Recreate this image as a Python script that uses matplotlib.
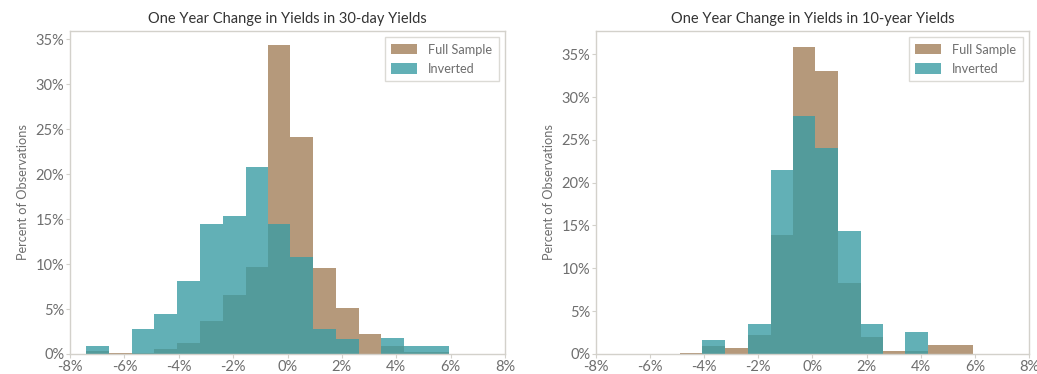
import numpy as np
import matplotlib
matplotlib.use("Agg")
import matplotlib.pyplot as plt
from matplotlib.ticker import FuncFormatter, MultipleLocator

plt.rcParams['font.family'] = ['Lato', 'DejaVu Sans']

# Shared histogram bin edges (one-year change, percentage points)
bin_edges = [-7.41, -6.57, -5.73, -4.90, -4.07, -3.22, -2.39, -1.54, -0.71,
             0.11, 0.95, 1.78, 2.62, 3.43, 4.27, 5.10, 5.93]

# 30-day yields: percent of observations per bin
short_full = [0.30, 0.11, 0.12, 0.59, 1.26, 3.70, 6.59, 9.70, 34.33,
              24.15, 9.52, 5.11, 2.19, 0.89, 0.26, 0.26]
short_inverted = [0.90, 0.0, 2.74, 4.48, 8.07, 14.40, 15.33, 20.74, 14.40,
                  10.81, 2.74, 1.70, 0.0, 1.74, 0.89, 0.89]

# 10-year yields: percent of observations per bin
long_full = [0.0, 0.0, 0.0, 0.08, 0.93, 0.66, 2.22, 13.90, 35.89,
             33.00, 8.29, 1.95, 0.39, 0.35, 1.01, 1.01]
long_inverted = [0.0, 0.0, 0.0, 0.0, 1.63, 0.0, 3.50, 21.49, 27.75,
                 24.10, 14.36, 3.50, 0.0, 2.57, 0.0, 0.0]

titles = ["One Year Change in Yields in 30-day Yields",
          "One Year Change in Yields in 10-year Yields"]
series_labels = ["Full Sample", "Inverted"]

BROWN = "#b5997b"
TEAL = "#3b9ca4"
SPINE = "#d3d1cb"
TICK_TXT = "#6e6e6e"
TITLE_TXT = "#333333"

fig = plt.figure(figsize=(10.37, 3.74), dpi=100)
ax_left = fig.add_axes([0.0675, 0.0535, 0.4195, 0.8635])
ax_right = fig.add_axes([0.5747, 0.0535, 0.4176, 0.8635])

pct = FuncFormatter(lambda v, _: f"{v:.0f}%")

edges = np.asarray(bin_edges)
lefts = edges[:-1]
widths = np.diff(edges)

panels = [
    (ax_left, short_full, short_inverted, 35.9),
    (ax_right, long_full, long_inverted, 37.7),
]

for (ax, full, inv, ytop), title in zip(panels, titles):
    ax.bar(lefts, full, width=widths, align='edge', color=BROWN,
           linewidth=0, label=series_labels[0])
    ax.bar(lefts, inv, width=widths, align='edge', color=TEAL, alpha=0.8,
           linewidth=0, label=series_labels[1])
    ax.set_xlim(-8, 8)
    ax.set_ylim(0, ytop)
    ax.xaxis.set_major_locator(MultipleLocator(2))
    ax.yaxis.set_major_locator(MultipleLocator(5))
    ax.xaxis.set_major_formatter(pct)
    ax.yaxis.set_major_formatter(pct)
    for sp in ax.spines.values():
        sp.set_color(SPINE)
        sp.set_linewidth(1.0)
    ax.tick_params(axis='both', colors=SPINE, labelcolor=TICK_TXT,
                   labelsize=10.5, length=3, width=0.8, pad=1)
    ax.set_title(title, fontsize=10.5, color=TITLE_TXT, pad=6)
    ax.set_ylabel("Percent of Observations", fontsize=9.2, color=TICK_TXT,
                  labelpad=5)
    leg = ax.legend(loc='upper right', fontsize=9.2, frameon=True,
                    fancybox=False, edgecolor=SPINE, handlelength=2.0,
                    handleheight=0.85, borderpad=0.5, labelspacing=0.55,
                    borderaxespad=0.5, handletextpad=0.9)
    leg.get_frame().set_linewidth(1.0)
    for t in leg.get_texts():
        t.set_color(TICK_TXT)

fig.savefig("out.png", dpi=100, facecolor="white")
